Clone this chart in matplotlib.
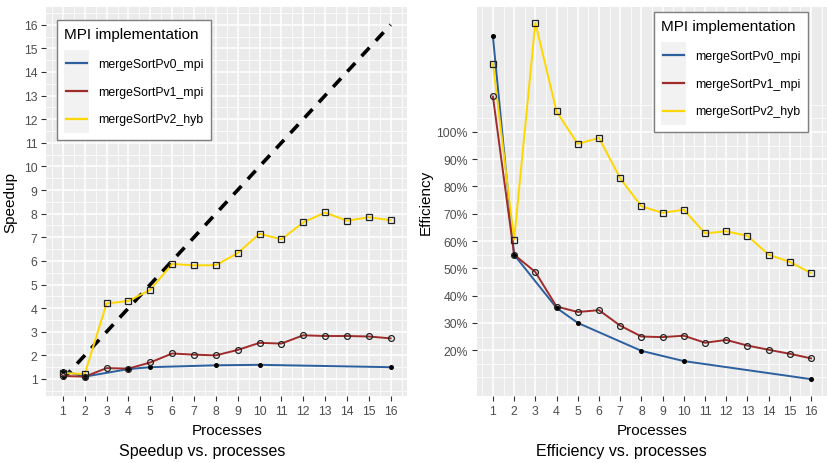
import matplotlib
matplotlib.use("Agg")
import matplotlib.pyplot as plt
from matplotlib.lines import Line2D
from matplotlib.patches import Rectangle
from matplotlib.legend_handler import HandlerBase
from matplotlib.ticker import FixedLocator, NullFormatter
from matplotlib import font_manager
import numpy as np

# ---------------- data ----------------
processes = list(range(1, 17))

v0_procs = [1, 2, 4, 5, 8, 10, 16]
v0_speedup = [1.35, 1.10, 1.42, 1.50, 1.58, 1.60, 1.50]

v1_speedup = [1.13, 1.10, 1.46, 1.44, 1.70, 2.08, 2.03, 2.00, 2.23, 2.53,
              2.50, 2.85, 2.82, 2.82, 2.80, 2.72]

v2_speedup = [1.25, 1.21, 4.20, 4.30, 4.78, 5.87, 5.81, 5.82, 6.33, 7.15,
              6.91, 7.63, 8.05, 7.70, 7.85, 7.72]

series_names = ["mergeSortPv0_mpi", "mergeSortPv1_mpi", "mergeSortPv2_hyb"]
series_colors = ["#2B5F9E", "#A02B2B", "#FFD700"]

speedup_ticks = list(range(1, 17))
eff_ticks = [0.2, 0.3, 0.4, 0.5, 0.6, 0.7, 0.8, 0.9, 1.0]
eff_labels = ["20%", "30%", "40%", "50%", "60%", "70%", "80%", "90%", "100%"]

# ---------------- style ----------------
avail = {f.name for f in font_manager.fontManager.ttflist}
base_font = "Liberation Sans" if "Liberation Sans" in avail else "DejaVu Sans"
title_font = "Liberation Sans Narrow" if "Liberation Sans Narrow" in avail else base_font
plt.rcParams["font.family"] = [base_font, "DejaVu Sans"]

PANEL = "#EBEBEB"
TICKC = "#4D4D4D"

fig = plt.figure(figsize=(8.28, 4.64), dpi=100)
ax1 = fig.add_axes([46.5 / 828, 67 / 464, 360.5 / 828, 389 / 464])
ax2 = fig.add_axes([477 / 828, 67 / 464, 350 / 828, 389 / 464])


def style_axis(ax, xlim, ylim, yticks, ylabels, yminor):
    ax.set_facecolor(PANEL)
    for s in ax.spines.values():
        s.set_visible(False)
    ax.set_xlim(*xlim)
    ax.set_ylim(*ylim)
    ax.set_xticks(processes)
    ax.set_xticklabels([str(p) for p in processes])
    ax.xaxis.set_minor_locator(FixedLocator(np.arange(0.5, 17.0, 1.0)))
    ax.set_yticks(yticks)
    ax.set_yticklabels(ylabels)
    ax.yaxis.set_minor_locator(FixedLocator(yminor))
    ax.xaxis.set_minor_formatter(NullFormatter())
    ax.yaxis.set_minor_formatter(NullFormatter())
    ax.grid(which="major", color="white", linewidth=1.1, zorder=0)
    ax.grid(which="minor", color="white", linewidth=0.55, zorder=0)
    ax.set_axisbelow(True)
    ax.tick_params(which="major", length=3.5, width=0.8, color="#333333",
                   labelcolor=TICKC, labelsize=8.8, pad=3)
    ax.tick_params(which="minor", length=0)
    ax.set_xlabel("Processes", fontsize=11, labelpad=4.5)


# ---------------- Speedup panel ----------------
style_axis(ax1, (0.25, 16.75), (0.28, 16.75), speedup_ticks,
           [str(t) for t in speedup_ticks], np.arange(0.5, 17.0, 0.5))
ax1.plot([1, 16], [1, 16], color="black", linestyle=(0, (3.2, 2.6)),
         linewidth=2.6, zorder=2)
ax1.plot(v0_procs, v0_speedup, color=series_colors[0], lw=1.4, zorder=3)
ax1.plot(processes, v1_speedup, color=series_colors[1], lw=1.4, zorder=3)
ax1.plot(processes, v2_speedup, color=series_colors[2], lw=1.4, zorder=3)
ax1.plot(v0_procs, v0_speedup, ls="none", marker="o", ms=2.6, mfc="black",
         mec="black", zorder=4)
ax1.plot(processes, v1_speedup, ls="none", marker="o", ms=4.2, mfc="none",
         mec="#222222", mew=0.9, zorder=4)
ax1.plot(processes, v2_speedup, ls="none", marker="s", ms=3.8, mfc="none",
         mec="#222222", mew=0.9, zorder=4)
ax1.set_ylabel("Speedup", fontsize=11, labelpad=5)

# ---------------- Efficiency panel ----------------
v0_eff = [s / p for s, p in zip(v0_speedup, v0_procs)]
v1_eff = [s / p for s, p in zip(v1_speedup, processes)]
v2_eff = [s / p for s, p in zip(v2_speedup, processes)]

style_axis(ax2, (0.25, 16.75), (0.032, 1.458), eff_ticks, eff_labels,
           np.arange(0.10, 1.11, 0.05))
ax2.plot(v0_procs, v0_eff, color=series_colors[0], lw=1.4, zorder=3)
ax2.plot(processes, v1_eff, color=series_colors[1], lw=1.4, zorder=3)
ax2.plot(processes, v2_eff, color=series_colors[2], lw=1.4, zorder=3)
ax2.plot(v0_procs, v0_eff, ls="none", marker="o", ms=2.6, mfc="black",
         mec="black", zorder=4)
ax2.plot(processes, v1_eff, ls="none", marker="o", ms=4.2, mfc="none",
         mec="#222222", mew=0.9, zorder=4)
ax2.plot(processes, v2_eff, ls="none", marker="s", ms=3.8, mfc="none",
         mec="#222222", mew=0.9, zorder=4)
ax2.set_ylabel("Efficiency", fontsize=11, labelpad=3)


# ---------------- legends ----------------
class KeyHandler(HandlerBase):
    """ggplot-like legend key: light grey square with a centred line."""

    def create_artists(self, legend, orig_handle, xdescent, ydescent,
                       width, height, fontsize, trans):
        rect = Rectangle((-xdescent, -ydescent), width, height,
                         facecolor="#F2F2F2", edgecolor="none",
                         transform=trans)
        yc = -ydescent + height / 2.0
        line = Line2D([-xdescent + 1.5, -xdescent + width - 1.5], [yc, yc],
                      color=orig_handle.get_color(),
                      linewidth=orig_handle.get_linewidth(), transform=trans)
        return [rect, line]


handles = [Line2D([], [], color=c, lw=1.6) for c in series_colors]


def add_legend(ax, anchor):
    leg = ax.legend(handles, series_names, title="MPI implementation",
                    loc="upper left", bbox_to_anchor=anchor,
                    bbox_transform=fig.transFigure,
                    handler_map={Line2D: KeyHandler()},
                    fontsize=8.8, title_fontsize=11, frameon=True,
                    fancybox=False, edgecolor="#7F7F7F", facecolor="white",
                    framealpha=1, handlelength=2.05, handleheight=3.1,
                    handletextpad=0.72, labelspacing=0.0, borderpad=0.6,
                    alignment="left", borderaxespad=0)
    leg.get_frame().set_linewidth(1.0)
    leg._legend_box.sep = 6.0
    return leg


add_legend(ax1, (57 / 828, 1 - 21 / 464))
add_legend(ax2, (654 / 828, 1 - 13 / 464))

# ---------------- bottom titles ----------------
fig.text(202 / 828, 1 - 452 / 464, "Speedup vs. processes", ha="center",
         va="center", fontsize=11.5, family=[title_font, "DejaVu Sans"])
fig.text(621 / 828, 1 - 452 / 464, "Efficiency vs. processes", ha="center",
         va="center", fontsize=11.5, family=[title_font, "DejaVu Sans"])

fig.savefig("out.png", dpi=100)
